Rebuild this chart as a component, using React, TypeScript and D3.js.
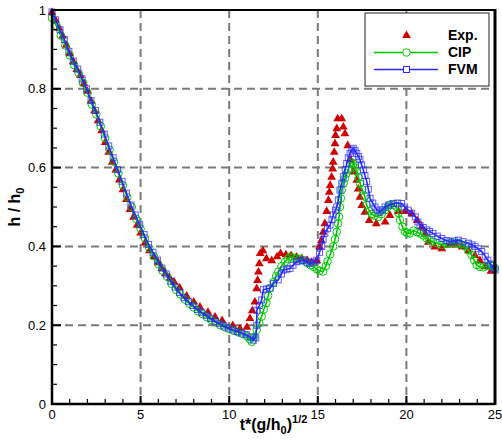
import React from 'react';
import * as d3 from 'd3';

const W = 502;
const H = 441;
const box = { left: 52, right: 495, top: 10, bottom: 404 };

const xTicks = [0, 5, 10, 15, 20, 25];
const xTickLabels = ['0', '5', '10', '15', '20', '25'];
const yTicks = [0, 0.2, 0.4, 0.6, 0.8, 1];
const yTickLabels = ['0', '0.2', '0.4', '0.6', '0.8', '1'];
const seriesNames = ['Exp.', 'CIP', 'FVM'];

// experiment (t, h/h0)
const expData = [
  [0, 0.995], [0.2, 0.975], [0.4, 0.955], [0.6, 0.935], [0.8, 0.912], [1.0, 0.89], [1.2, 0.87],
  [1.4, 0.85], [1.6, 0.835], [1.8, 0.815], [2.0, 0.795], [2.2, 0.77], [2.4, 0.745], [2.6, 0.72],
  [2.8, 0.695], [3.0, 0.665], [3.2, 0.64], [3.4, 0.615], [3.6, 0.595], [3.8, 0.57], [4.0, 0.545],
  [4.2, 0.52], [4.4, 0.495], [4.6, 0.475], [4.8, 0.455], [5.0, 0.435], [5.25, 0.41], [5.5, 0.39],
  [5.75, 0.375], [6.0, 0.36], [6.2, 0.345], [6.4, 0.332], [6.65, 0.32], [6.9, 0.31], [7.2, 0.296],
  [7.6, 0.275], [8.0, 0.26], [8.35, 0.247], [8.8, 0.234], [9.2, 0.222], [9.6, 0.213], [10.2, 0.2],
  [10.6, 0.192], [11.0, 0.196], [11.17, 0.218], [11.3, 0.238], [11.45, 0.26], [11.55, 0.294],
  [11.6, 0.315], [11.65, 0.336], [11.7, 0.357], [11.75, 0.383], [11.9, 0.39], [12.1, 0.37],
  [12.4, 0.365], [12.7, 0.375], [12.9, 0.383], [13.2, 0.38], [13.5, 0.378], [13.8, 0.374],
  [14.1, 0.37], [14.4, 0.366], [14.65, 0.361], [14.94, 0.365], [15.1, 0.4], [15.2, 0.416],
  [15.3, 0.437], [15.4, 0.459], [15.5, 0.49], [15.6, 0.518], [15.65, 0.539], [15.7, 0.556],
  [15.78, 0.577], [15.84, 0.598], [15.87, 0.615], [15.93, 0.64], [15.97, 0.662], [16.0, 0.683],
  [16.07, 0.7], [16.12, 0.725], [16.35, 0.725], [16.44, 0.704], [16.53, 0.687], [16.69, 0.657],
  [16.85, 0.62], [17.0, 0.59], [17.2, 0.569], [17.28, 0.547], [17.38, 0.526], [17.48, 0.505],
  [17.66, 0.488], [17.9, 0.467], [18.3, 0.459], [18.8, 0.463], [19.07, 0.48], [19.55, 0.49],
  [19.92, 0.49], [20.3, 0.484], [20.6, 0.467], [20.86, 0.45], [21.05, 0.433], [21.24, 0.412],
  [21.6, 0.4], [22.0, 0.395], [22.46, 0.405], [22.8, 0.405], [23.15, 0.4], [23.5, 0.39],
  [23.87, 0.378], [24.15, 0.365], [24.44, 0.35], [24.77, 0.338],
];

// CIP simulation
const cipData = [
  [0, 0.98], [0.25, 0.96], [0.5, 0.935], [0.75, 0.91], [1.0, 0.885], [1.25, 0.86], [1.5, 0.84],
  [1.75, 0.815], [2.0, 0.79], [2.25, 0.76], [2.5, 0.735], [2.75, 0.705], [3.0, 0.675], [3.25, 0.645],
  [3.5, 0.615], [3.75, 0.585], [4.0, 0.555], [4.25, 0.525], [4.5, 0.5], [4.75, 0.47], [5.0, 0.445],
  [5.25, 0.42], [5.5, 0.395], [5.75, 0.375], [6.0, 0.355], [6.25, 0.338], [6.5, 0.323], [6.75, 0.305],
  [7.0, 0.29], [7.25, 0.278], [7.5, 0.265], [7.75, 0.255], [8.0, 0.245], [8.25, 0.235], [8.5, 0.228],
  [8.75, 0.22], [9.0, 0.213], [9.25, 0.207], [9.5, 0.2], [9.75, 0.195], [10.0, 0.19], [10.25, 0.186],
  [10.5, 0.182], [10.75, 0.178], [11.0, 0.172], [11.15, 0.165], [11.27, 0.158], [11.4, 0.17],
  [11.55, 0.188], [11.7, 0.205], [11.83, 0.222], [11.95, 0.24], [12.1, 0.256], [12.2, 0.275],
  [12.3, 0.294], [12.5, 0.31], [12.65, 0.325], [12.77, 0.336], [12.95, 0.35], [13.15, 0.361],
  [13.3, 0.368], [13.43, 0.374], [13.6, 0.372], [13.8, 0.37], [14.0, 0.368], [14.18, 0.365],
  [14.4, 0.358], [14.6, 0.352], [14.75, 0.348], [14.95, 0.342], [15.1, 0.338], [15.3, 0.336],
  [15.45, 0.35], [15.55, 0.362], [15.7, 0.38], [15.87, 0.4], [15.97, 0.418], [16.07, 0.437],
  [16.15, 0.458], [16.2, 0.475], [16.25, 0.5], [16.3, 0.522], [16.35, 0.543], [16.45, 0.56],
  [16.53, 0.573], [16.62, 0.585], [16.72, 0.594], [16.82, 0.61], [16.9, 0.613], [17.0, 0.61],
  [17.1, 0.6], [17.2, 0.59], [17.3, 0.575], [17.38, 0.56], [17.5, 0.545], [17.66, 0.526],
  [17.76, 0.505], [17.9, 0.49], [18.05, 0.482], [18.2, 0.478], [18.4, 0.475], [18.6, 0.482],
  [18.8, 0.492], [18.95, 0.5], [19.07, 0.506], [19.25, 0.505], [19.45, 0.5], [19.55, 0.485],
  [19.64, 0.467], [19.78, 0.45], [19.92, 0.437], [20.05, 0.434], [20.2, 0.433], [20.4, 0.44],
  [20.6, 0.436], [20.77, 0.433], [20.95, 0.428], [21.15, 0.42], [21.3, 0.416], [21.5, 0.412],
  [21.75, 0.408], [22.0, 0.404], [22.25, 0.406], [22.46, 0.408], [22.7, 0.409], [22.93, 0.408],
  [23.1, 0.405], [23.3, 0.4], [23.5, 0.39], [23.68, 0.378], [23.82, 0.365], [23.96, 0.353],
  [24.15, 0.348], [24.34, 0.347], [24.55, 0.35], [24.72, 0.353], [24.85, 0.35], [25.0, 0.345],
];

// FVM simulation
const fvmData = [
  [0, 0.995], [0.2, 0.975], [0.45, 0.95], [0.7, 0.925], [0.95, 0.895], [1.2, 0.87], [1.45, 0.85],
  [1.7, 0.825], [1.95, 0.8], [2.2, 0.77], [2.45, 0.745], [2.7, 0.715], [2.95, 0.685], [3.2, 0.655],
  [3.45, 0.625], [3.7, 0.595], [3.95, 0.565], [4.2, 0.535], [4.45, 0.505], [4.7, 0.48], [4.95, 0.455],
  [5.2, 0.43], [5.45, 0.405], [5.7, 0.385], [5.95, 0.365], [6.2, 0.345], [6.45, 0.33], [6.7, 0.312],
  [6.95, 0.297], [7.2, 0.283], [7.45, 0.27], [7.7, 0.26], [7.95, 0.25], [8.2, 0.24], [8.45, 0.232],
  [8.7, 0.225], [8.95, 0.217], [9.2, 0.21], [9.45, 0.204], [9.7, 0.198], [9.95, 0.193], [10.2, 0.188],
  [10.45, 0.184], [10.7, 0.18], [10.95, 0.176], [11.2, 0.17], [11.36, 0.162], [11.5, 0.168],
  [11.55, 0.2], [11.56, 0.238], [11.7, 0.25], [11.83, 0.264], [11.93, 0.29], [12.1, 0.292],
  [12.3, 0.294], [12.5, 0.306], [12.77, 0.315], [12.95, 0.33], [13.05, 0.34], [13.25, 0.342],
  [13.43, 0.344], [13.6, 0.352], [13.8, 0.361], [14.0, 0.363], [14.18, 0.365], [14.4, 0.36],
  [14.56, 0.357], [14.75, 0.36], [14.94, 0.365], [15.1, 0.385], [15.22, 0.4], [15.3, 0.418],
  [15.4, 0.433], [15.55, 0.445], [15.69, 0.454], [15.8, 0.468], [15.87, 0.48], [16.0, 0.492],
  [16.07, 0.5], [16.16, 0.518], [16.25, 0.543], [16.35, 0.56], [16.44, 0.577], [16.55, 0.595],
  [16.63, 0.61], [16.72, 0.625], [16.82, 0.636], [16.92, 0.645], [17.0, 0.649], [17.1, 0.643],
  [17.2, 0.636], [17.3, 0.628], [17.38, 0.62], [17.47, 0.607], [17.57, 0.594], [17.66, 0.58],
  [17.76, 0.565], [17.85, 0.545], [17.95, 0.522], [18.1, 0.51], [18.23, 0.5], [18.35, 0.492],
  [18.5, 0.487], [18.65, 0.493], [18.8, 0.5], [19.0, 0.505], [19.26, 0.509], [19.5, 0.51],
  [19.73, 0.509], [19.9, 0.5], [20.1, 0.492], [20.3, 0.484], [20.5, 0.475], [20.65, 0.462],
  [20.77, 0.454], [20.95, 0.448], [21.15, 0.442], [21.3, 0.438], [21.5, 0.433], [21.75, 0.426],
  [22.0, 0.42], [22.25, 0.415], [22.46, 0.412], [22.7, 0.414], [22.93, 0.416], [23.2, 0.412],
  [23.5, 0.408], [23.7, 0.404], [23.87, 0.4], [24.05, 0.394], [24.25, 0.387], [24.45, 0.375],
  [24.6, 0.365], [24.75, 0.355], [24.9, 0.345], [25.0, 0.34],
];

const RED = '#d00000';
const GREEN = '#00c800';
const BLUE = '#2828ff';
const FONT = '"Liberation Sans", Arial, Helvetica, sans-serif';
const TRI = 'M0,-4.6L4.4,3L-4.4,3Z';

export default function App() {
  const x = d3.scaleLinear().domain([0, 25]).range([box.left, box.right]);
  const y = d3.scaleLinear().domain([0, 1]).range([box.bottom, box.top]);
  const line = d3.line<number[]>().x(d => x(d[0])).y(d => y(d[1]));

  const xMinor = d3.range(0, 25.001, 1).filter(v => v % 5 !== 0);
  const yMinor = d3.range(0, 1.0001, 0.05).filter(v => Math.abs(v * 5 - Math.round(v * 5)) > 1e-6);

  return (
    <svg width={W} height={H} style={{ position: 'absolute', left: 0, top: 0, background: '#fff' }}
      fontFamily={FONT}>
      {/* grid */}
      <g stroke="#7a7a7a" strokeWidth={2} strokeDasharray="8,5" fill="none">
        {xTicks.slice(1, -1).map(t => (
          <line key={'gx' + t} x1={x(t)} x2={x(t)} y1={box.top} y2={box.bottom} />
        ))}
        {yTicks.slice(1, -1).map(t => (
          <line key={'gy' + t} x1={box.left} x2={box.right} y1={y(t)} y2={y(t)} />
        ))}
      </g>

      {/* series */}
      <g fill={RED}>
        {expData.map((d, i) => (
          <path key={'e' + i} d={TRI} transform={`translate(${x(d[0])},${y(d[1])})`} />
        ))}
      </g>
      <path d={line(cipData) || ''} fill="none" stroke={GREEN} strokeWidth={1.6} />
      <g fill="none" stroke={GREEN} strokeWidth={1}>
        {cipData.map((d, i) => (
          <circle key={'c' + i} cx={x(d[0])} cy={y(d[1])} r={3.8} />
        ))}
      </g>
      <path d={line(fvmData) || ''} fill="none" stroke={BLUE} strokeWidth={1.6} />
      <g fill="none" stroke={BLUE} strokeWidth={1} strokeOpacity={0.75}>
        {fvmData.map((d, i) => (
          <rect key={'f' + i} x={x(d[0]) - 3} y={y(d[1]) - 3} width={6} height={6} />
        ))}
      </g>

      {/* frame */}
      <g stroke="#000" fill="none">
        <line x1={box.left} x2={box.right} y1={box.top} y2={box.top} strokeWidth={2} />
        <line x1={box.right} x2={box.right} y1={box.top - 1} y2={box.bottom + 1} strokeWidth={3} />
        <line x1={box.left} x2={box.left} y1={box.top - 1} y2={box.bottom + 1} strokeWidth={2.5} />
        <line x1={box.left - 1} x2={box.right} y1={box.bottom} y2={box.bottom} strokeWidth={2.5} />
      </g>

      {/* ticks */}
      <g stroke="#000">
        {xTicks.map(t => (
          <line key={'xt' + t} x1={x(t)} x2={x(t)} y1={box.bottom} y2={box.bottom - 8} strokeWidth={2} />
        ))}
        {xMinor.map(t => (
          <line key={'xm' + t} x1={x(t)} x2={x(t)} y1={box.bottom} y2={box.bottom - 5} strokeWidth={1.2} />
        ))}
        {yTicks.map(t => (
          <line key={'yt' + t} x1={box.left} x2={box.left + 9} y1={y(t)} y2={y(t)} strokeWidth={2} />
        ))}
        {yMinor.map(t => (
          <line key={'ym' + t} x1={box.left} x2={box.left + 5} y1={y(t)} y2={y(t)} strokeWidth={1.2} />
        ))}
      </g>

      {/* tick labels */}
      <g fontSize={13} fill="#000">
        {xTicks.map((t, i) => (
          <text key={'xl' + t} x={x(t)} y={box.bottom + 15} textAnchor="middle">{xTickLabels[i]}</text>
        ))}
        {yTicks.map((t, i) => (
          <text key={'yl' + t} x={box.left - 6} y={y(t) + 4.5} textAnchor="end">{yTickLabels[i]}</text>
        ))}
      </g>

      {/* axis titles */}
      <text x={(box.left + box.right) / 2} y={430} textAnchor="middle" fontSize={16} fontWeight="bold">
        t*(g/h<tspan fontSize={11} dy={4}>0</tspan><tspan dy={-4}>)</tspan>
        <tspan fontSize={11} dy={-7}>1/2</tspan>
      </text>
      <text transform={`translate(20,${(box.top + box.bottom) / 2}) rotate(-90)`} textAnchor="middle"
        fontSize={16} fontWeight="bold">
        h / h<tspan fontSize={11} dy={4}>0</tspan>
      </text>

      {/* legend */}
      <rect x={365} y={13} width={124} height={73} fill="#fff" stroke="#222" strokeWidth={1} />
      <g fontSize={14} fontWeight="bold">
        <path d={TRI} fill={RED} transform="translate(406.5,35)" />
        <text x={448} y={40}>{seriesNames[0]}</text>
        <line x1={374} x2={438} y1={52.5} y2={52.5} stroke={GREEN} strokeWidth={1.6} />
        <circle cx={406.5} cy={52.5} r={3.8} fill="#fff" stroke={GREEN} />
        <text x={448} y={57}>{seriesNames[1]}</text>
        <line x1={374} x2={438} y1={69.5} y2={69.5} stroke={BLUE} strokeWidth={1.6} />
        <rect x={403.5} y={66.5} width={6} height={6} fill="#fff" stroke={BLUE} />
        <text x={448} y={74}>{seriesNames[2]}</text>
      </g>
    </svg>
  );
}
